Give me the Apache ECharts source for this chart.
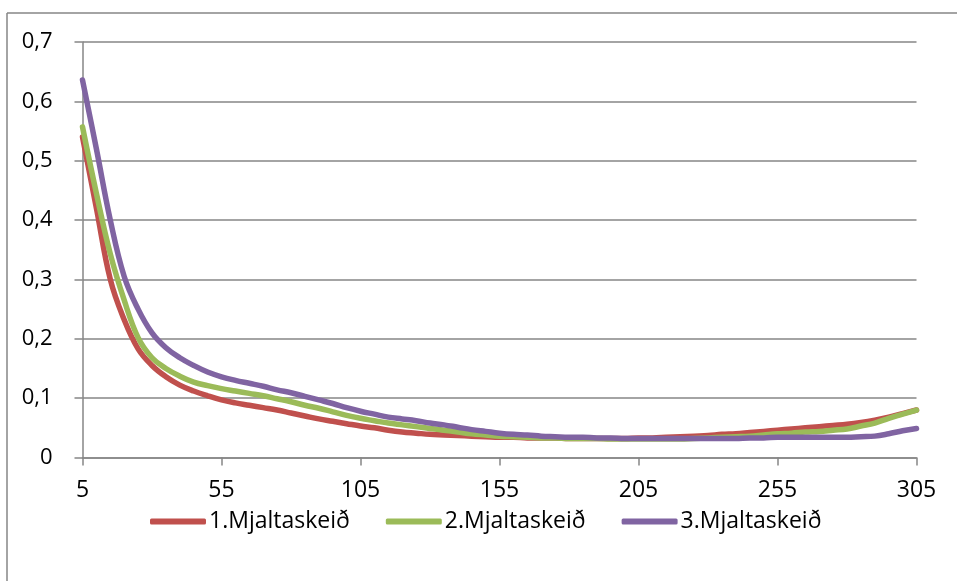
<!DOCTYPE html>
<html>
<head>
<meta charset="utf-8">
<script src="https://cdn.jsdelivr.net/npm/echarts@6/dist/echarts.min.js"></script>
<style>
  html, body { margin: 0; padding: 0; background: #fff; }
  #chart { width: 957px; height: 581px; }
</style>
</head>
<body>
<div id="chart"></div>
<script>
// Days in milk, sampled every 5 days
const days = [];
for (let d = 5; d <= 305; d += 5) days.push(String(d));

const seriesNames = ['1.Mjaltaskeið', '2.Mjaltaskeið', '3.Mjaltaskeið'];

const lactation1 = [
  0.540, 0.420, 0.300, 0.232, 0.183, 0.155, 0.136, 0.122, 0.112, 0.104,
  0.097, 0.092, 0.088, 0.084, 0.080, 0.075, 0.070, 0.065, 0.061, 0.057,
  0.053, 0.050, 0.046, 0.043, 0.041, 0.039, 0.038, 0.037, 0.036, 0.035,
  0.034, 0.034, 0.033, 0.033, 0.033, 0.032, 0.032, 0.032, 0.032, 0.032,
  0.033, 0.033, 0.034, 0.035, 0.036, 0.037, 0.039, 0.040, 0.042, 0.044,
  0.046, 0.048, 0.050, 0.052, 0.054, 0.056, 0.059, 0.063, 0.068, 0.074,
  0.080
];

const lactation2 = [
  0.557, 0.445, 0.343, 0.265, 0.202, 0.168, 0.150, 0.137, 0.127, 0.121,
  0.116, 0.112, 0.108, 0.104, 0.099, 0.094, 0.088, 0.083, 0.077, 0.071,
  0.066, 0.062, 0.058, 0.055, 0.052, 0.049, 0.046, 0.043, 0.040, 0.038,
  0.036, 0.035, 0.034, 0.033, 0.033, 0.032, 0.032, 0.032, 0.031, 0.031,
  0.031, 0.031, 0.031, 0.031, 0.032, 0.033, 0.034, 0.035, 0.036, 0.038,
  0.040, 0.041, 0.043, 0.044, 0.046, 0.048, 0.053, 0.058, 0.066, 0.073,
  0.080
];

const lactation3 = [
  0.636, 0.520, 0.400, 0.305, 0.250, 0.210, 0.185, 0.168, 0.155, 0.144,
  0.136, 0.130, 0.125, 0.120, 0.114, 0.109, 0.103, 0.097, 0.091, 0.084,
  0.078, 0.073, 0.068, 0.065, 0.062, 0.058, 0.055, 0.051, 0.047, 0.044,
  0.041, 0.039, 0.038, 0.036, 0.035, 0.034, 0.034, 0.033, 0.033, 0.032,
  0.032, 0.032, 0.032, 0.032, 0.032, 0.032, 0.032, 0.032, 0.033, 0.033,
  0.034, 0.034, 0.034, 0.034, 0.034, 0.034, 0.035, 0.036, 0.040, 0.045,
  0.049
];

const colors = ['#C0504D', '#9BBB59', '#8064A2'];
const values = [lactation1, lactation2, lactation3];

const axisGray = '#868686';
const font = '"Open Sans", Lato, sans-serif';
const fontSize = 23;

const chart = echarts.init(document.getElementById('chart'), null, { renderer: 'canvas' });

chart.setOption({
  animation: false,
  backgroundColor: '#fff',
  color: colors,
  textStyle: { fontFamily: font },
  grid: { left: 82.5, right: 40.5, top: 42, bottom: 123.5, containLabel: false },
  graphic: [
    { type: 'line', silent: true, shape: { x1: 7, y1: 13, x2: 957, y2: 13 },
      style: { stroke: axisGray, lineWidth: 1.5 } },
    { type: 'line', silent: true, shape: { x1: 7, y1: 13, x2: 7, y2: 581 },
      style: { stroke: axisGray, lineWidth: 1.5 } }
  ],
  legend: {
    top: 505,
    left: 145,
    icon: 'roundRect',
    itemWidth: 56,
    itemHeight: 6,
    itemGap: 36,
    textStyle: { fontFamily: font, fontSize: fontSize, color: '#000', padding: [0, 0, 0, -2] },
    data: seriesNames
  },
  xAxis: {
    type: 'category',
    data: days,
    boundaryGap: false,
    axisLine: { show: true, lineStyle: { color: axisGray, width: 1.5 } },
    axisTick: { show: true, interval: 9, length: 8, inside: false,
      lineStyle: { color: axisGray, width: 1.5 } },
    axisLabel: { interval: 9, margin: 21, fontFamily: font, fontSize: fontSize, color: '#000' },
    splitLine: { show: false }
  },
  yAxis: {
    type: 'value',
    min: 0,
    max: 0.7,
    interval: 0.1,
    axisLine: { show: true, lineStyle: { color: axisGray, width: 1.5 } },
    axisTick: { show: true, length: 8, inside: false,
      lineStyle: { color: axisGray, width: 1.5 } },
    axisLabel: {
      margin: 30,
      fontFamily: font,
      fontSize: 22,
      color: '#000',
      formatter: v => v === 0 ? '0' : v.toFixed(1).replace('.', ',')
    },
    splitLine: { show: true, lineStyle: { color: axisGray, width: 1.5 } }
  },
  series: seriesNames.map((name, i) => ({
    name,
    type: 'line',
    data: values[i],
    smooth: 0.4,
    showSymbol: false,
    symbol: 'none',
    lineStyle: { width: 5.5, color: colors[i], cap: 'round' },
    itemStyle: { color: colors[i] },
    z: 2 + i
  }))
});
</script>
</body>
</html>
